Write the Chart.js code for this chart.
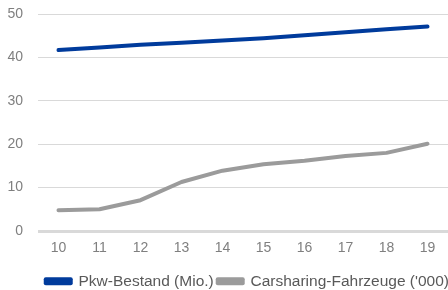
<!DOCTYPE html>
<html>
<head>
<meta charset="utf-8">
<script src="https://cdn.jsdelivr.net/npm/chart.js@4/dist/chart.umd.min.js"></script>
<style>
  html, body { margin: 0; padding: 0; background: #ffffff; }
  #wrap { width: 448px; height: 290px; position: relative; }
</style>
</head>
<body>
<div id="wrap"><canvas id="c"></canvas></div>
<script>
const categories = ["10", "11", "12", "13", "14", "15", "16", "17", "18", "19"];
const pkwBestand = [41.7, 42.3, 42.9, 43.4, 43.9, 44.4, 45.1, 45.8, 46.5, 47.1];
const carsharing = [4.8, 5.0, 7.1, 11.3, 13.9, 15.4, 16.2, 17.3, 18.0, 20.1];
const seriesNames = ["Pkw-Bestand (Mio.)", "Carsharing-Fahrzeuge ('000)"];
const yTicks = [0, 10, 20, 30, 40, 50];

const FONT = "'Liberation Sans', Arial, sans-serif";

const legendShift = {
  id: 'legendShift',
  afterLayout(chart) {
    if (chart.legend) { chart.legend.left += 5; chart.legend.right += 5; }
  }
};

new Chart(document.getElementById('c'), {
  type: 'line',
  plugins: [legendShift],
  data: {
    labels: categories,
    datasets: [
      {
        label: seriesNames[0],
        data: pkwBestand,
        borderColor: '#003b9c',
        backgroundColor: '#003b9c',
        borderWidth: 4,
        borderCapStyle: 'round',
        borderJoinStyle: 'round',
        pointRadius: 0,
        tension: 0
      },
      {
        label: seriesNames[1],
        data: carsharing,
        borderColor: '#9b9b9b',
        backgroundColor: '#9b9b9b',
        borderWidth: 4,
        borderCapStyle: 'round',
        borderJoinStyle: 'round',
        pointRadius: 0,
        tension: 0
      }
    ]
  },
  options: {
    responsive: true,
    maintainAspectRatio: false,
    animation: false,
    layout: { padding: { left: 7, right: 0, top: 0, bottom: -9 } },
    plugins: {
      legend: {
        position: 'bottom',
        align: 'end',
        labels: {
          boxWidth: 25,
          boxHeight: 4,
          padding: 4,
          color: '#595959',
          font: { family: FONT, size: 15.5 }
        }
      },
      tooltip: { enabled: false }
    },
    scales: {
      x: {
        offset: true,
        grid: { display: false, drawTicks: false },
        border: { display: false },
        ticks: {
          color: '#7f7f7f',
          font: { family: FONT, size: 14 },
          padding: 9,
          maxRotation: 0
        },
        afterFit: (axis) => { axis.height = 38.5; }
      },
      y: {
        min: 0,
        max: 50,
        afterBuildTicks: (axis) => { axis.ticks = yTicks.map(v => ({ value: v })); },
        afterFit: (axis) => { axis.width = 31; axis.paddingTop = 14; axis.paddingBottom = 0; },
        grid: {
          drawTicks: false,
          color: '#d9d9d9',
          lineWidth: (ctx) => (ctx.tick && ctx.tick.value === 0 ? 3 : 1)
        },
        border: { display: false },
        ticks: {
          color: '#7f7f7f',
          font: { family: FONT, size: 14 },
          padding: 15
        }
      }
    }
  }
});
</script>
</body>
</html>
